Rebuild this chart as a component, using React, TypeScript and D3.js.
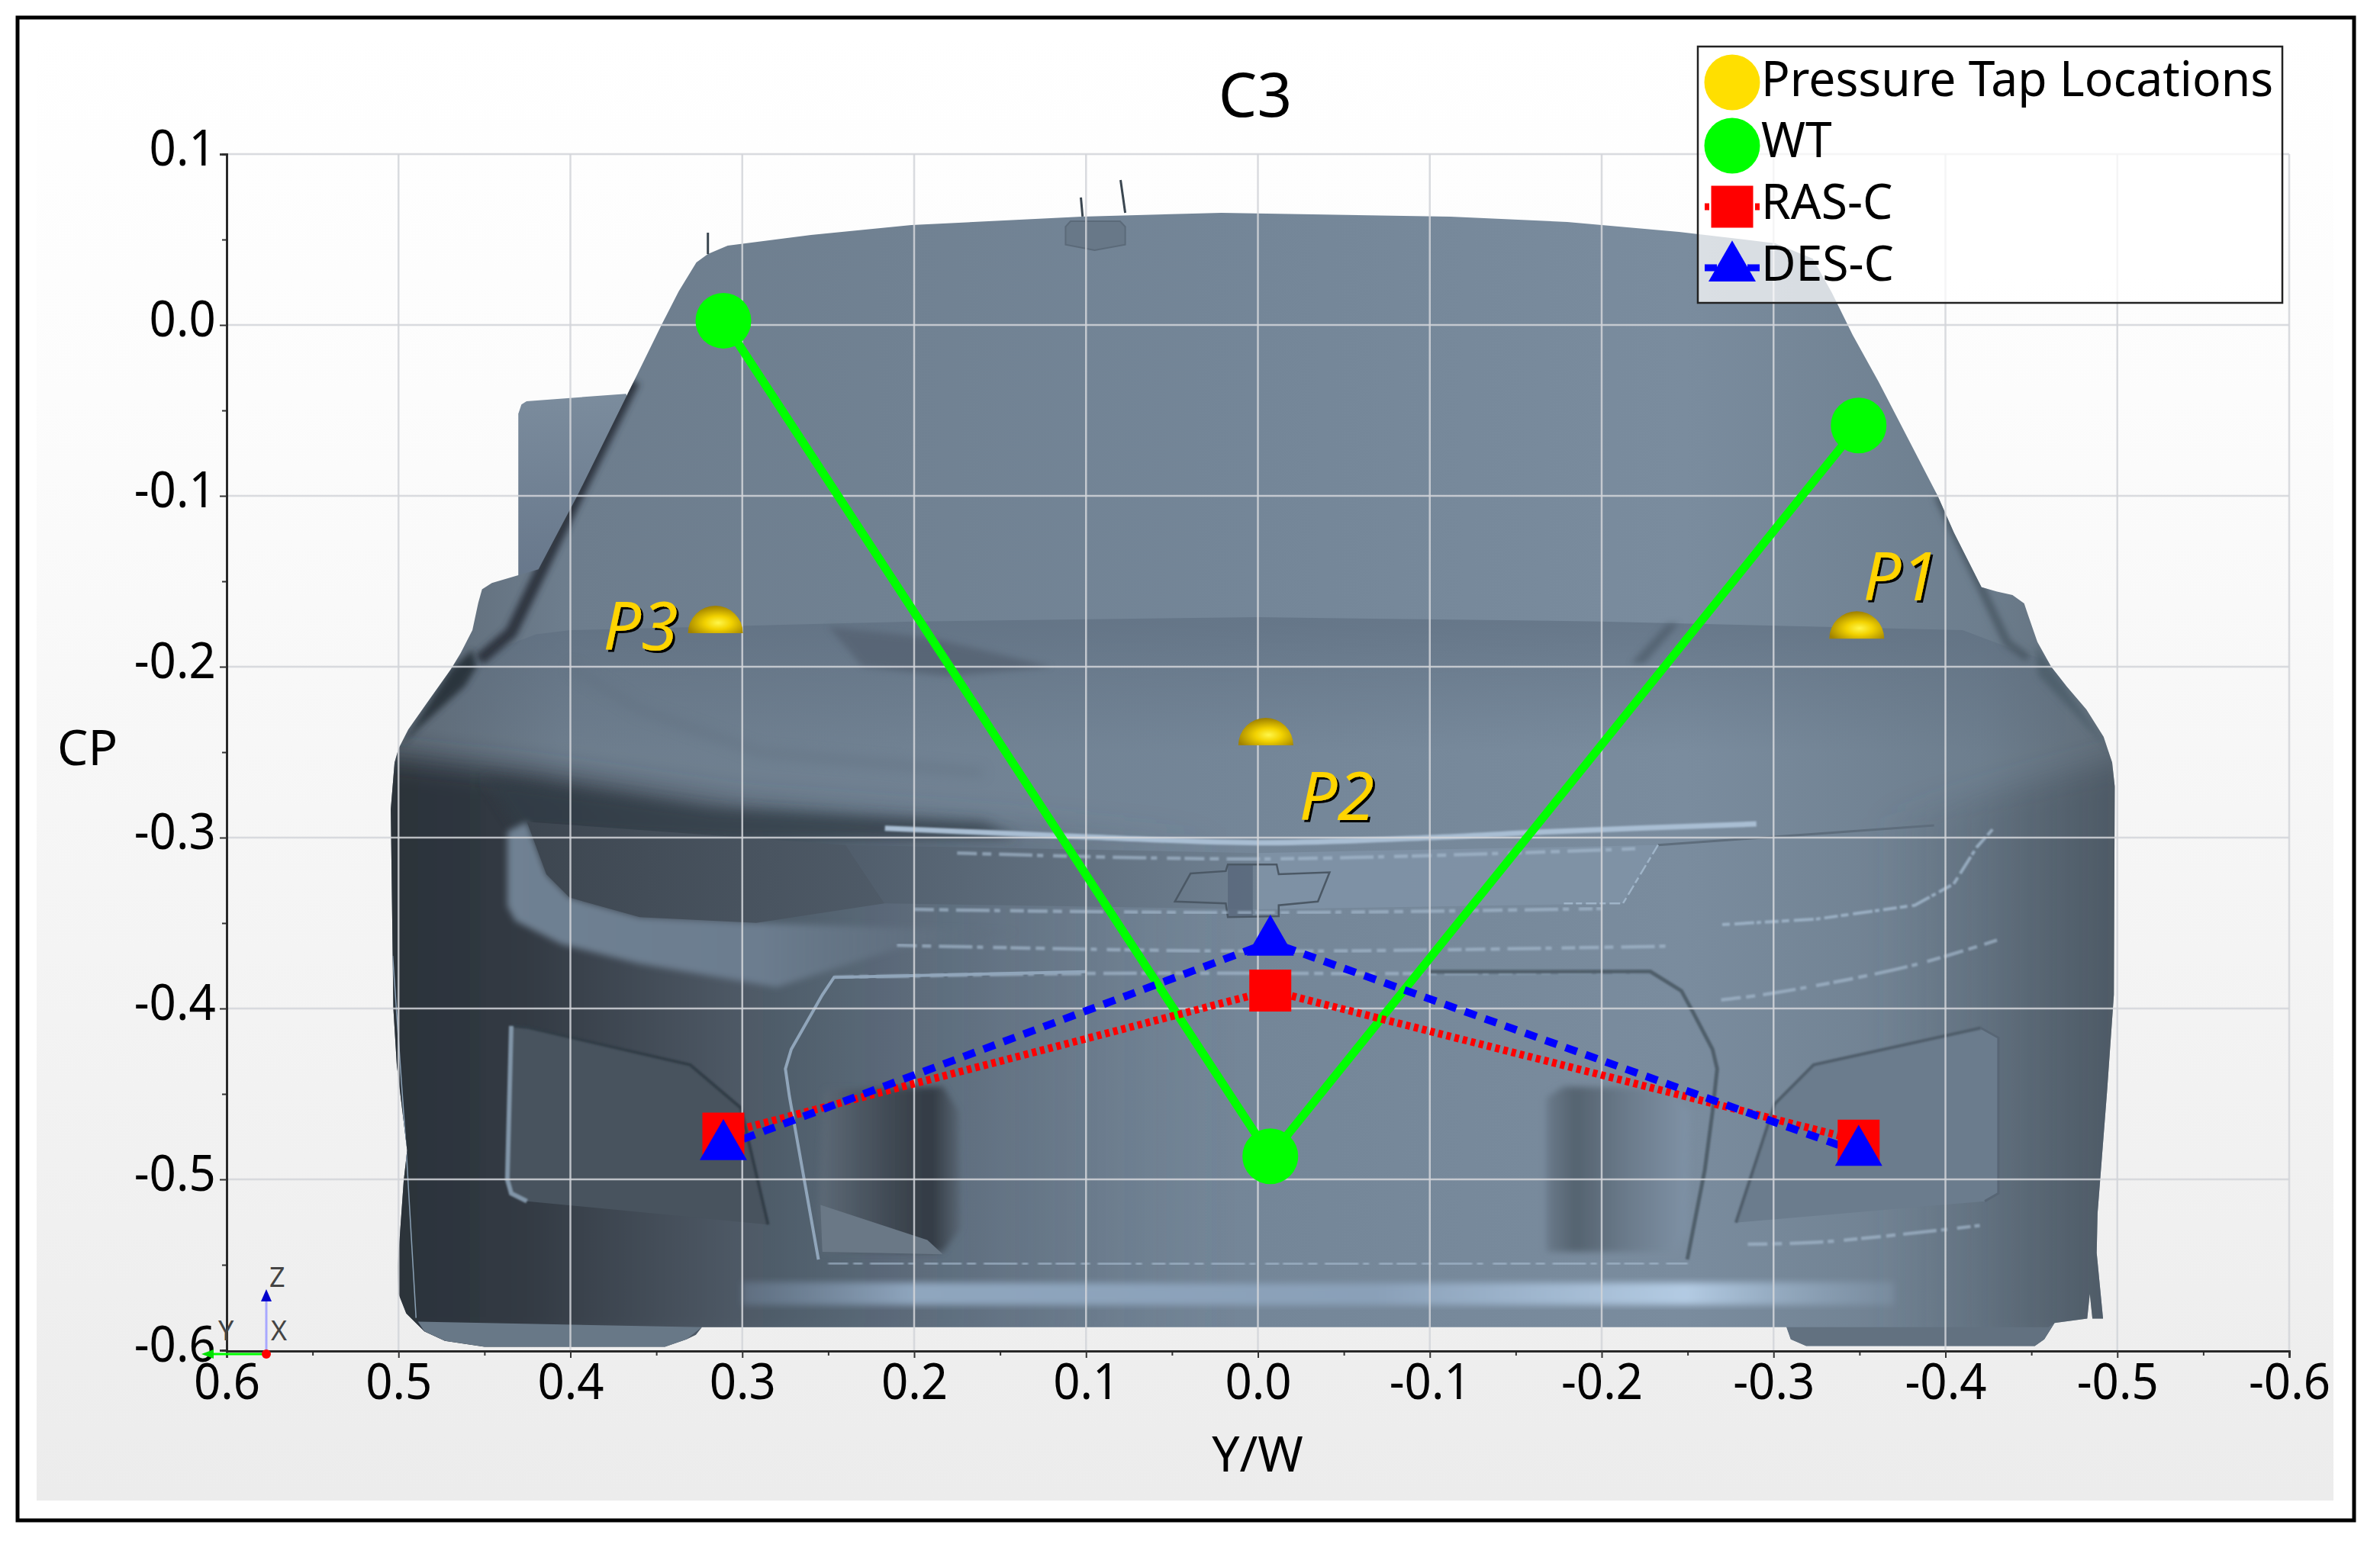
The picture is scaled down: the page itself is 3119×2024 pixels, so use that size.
import { useEffect, useRef } from 'react';
import * as d3 from 'd3';

type Pt = number[];

// chart data
const tapPositions = [0.311, -0.0072, -0.3495];
const wtCp = [0.0025, -0.4865, -0.0588];
const rasCp = [-0.4732, -0.3895, -0.4773];
const desCp = [-0.4807, -0.3611, -0.4841];
const tapDomeY = [0.3156, -0.0046, -0.3484];
const tapDomeCp = [-0.1804, -0.246, -0.1836];
const tapNames = ['P3', 'P2', 'P1'];
const tapNameY = [0.381, -0.024, -0.352];
const tapNameCp = [-0.19, -0.2897, -0.161];
const legendLabels = ['Pressure Tap Locations', 'WT', 'RAS-C', 'DES-C'];
const xTicks = [0.6, 0.5, 0.4, 0.3, 0.2, 0.1, 0, -0.1, -0.2, -0.3, -0.4, -0.5, -0.6];
const xMinorTicks = [0.55, 0.45, 0.35, 0.25, 0.15, 0.05, -0.05, -0.15, -0.25, -0.35, -0.45, -0.55];
const yTicks = [0.1, 0, -0.1, -0.2, -0.3, -0.4, -0.5, -0.6];
const yMinorTicks = [0.05, -0.05, -0.15, -0.25, -0.35, -0.45, -0.55];

// car backdrop outlines, in Y/W and CP units
const bodyOutline: Pt[] = [
  [0.5045, -0.2834], [0.503, -0.4], [0.501, -0.433], [0.495, -0.483], [0.497, -0.501], [0.5005, -0.551],
  [0.5, -0.567], [0.4955, -0.5785], [0.485, -0.589], [0.473, -0.5945], [0.45, -0.598], [0.345, -0.598],
  [0.3325, -0.5936], [0.327, -0.591], [0.3235, -0.5865], [-0.3075, -0.5865], [-0.31, -0.5936], [-0.319, -0.5975],
  [-0.452, -0.5975], [-0.4575, -0.5936], [-0.4635, -0.584], [-0.4825, -0.5815], [-0.484, -0.567], [-0.4855, -0.5815],
  [-0.4917, -0.5815], [-0.488, -0.543], [-0.4885, -0.52], [-0.494, -0.449], [-0.498, -0.392], [-0.4985, -0.27],
  [-0.497, -0.256], [-0.492, -0.241], [-0.482, -0.225], [-0.4705, -0.2115], [-0.4615, -0.2], [-0.4535, -0.1855],
  [-0.448, -0.1695], [-0.4458, -0.163], [-0.439, -0.158], [-0.43, -0.156], [-0.421, -0.1535], [-0.405, -0.1216],
  [-0.3955, -0.1], [-0.361, -0.033], [-0.346, -0.0058], [-0.334, 0.0188], [-0.3228, 0.0388], [-0.301, 0.0478],
  [-0.245, 0.0545], [-0.18, 0.0603], [-0.112, 0.0634], [0.0213, 0.0656], [0.1025, 0.0634], [0.2016, 0.0585],
  [0.26, 0.0527], [0.3085, 0.0464],
  [0.32, 0.0415], [0.3267, 0.0366], [0.337, 0.0196], [0.347, 0], [0.363, -0.0328], [0.396, -0.1],
  [0.4186, -0.143], [0.4457, -0.151], [0.4514, -0.1547], [0.4536, -0.1626], [0.457, -0.1786], [0.4638, -0.192],
  [0.4695, -0.2014], [0.484, -0.222], [0.4943, -0.2367], [0.5, -0.248], [0.5023, -0.256],
];
const wingPlate: Pt[] = [
  [0.4303, -0.155], [0.4303, -0.052], [0.4285, -0.0465], [0.4255, -0.0446], [0.3676, -0.0403], [0.33, -0.155],
];
const leftTire: Pt[] = [
  [0.4887, -0.5833], [0.485, -0.589], [0.473, -0.5945], [0.45, -0.598], [0.345, -0.598], [0.3325, -0.5936], [0.3235, -0.5865],
];
const rightTire: Pt[] = [
  [-0.3075, -0.5865], [-0.31, -0.5936], [-0.319, -0.5975], [-0.452, -0.5975], [-0.4575, -0.5936], [-0.4635, -0.584], [-0.46, -0.5865],
];
const lowerLeftShade: Pt[] = [[0.52, -0.25], [0.42, -0.262], [0.3, -0.28], [0.02, -0.3], [0.02, -0.6], [0.52, -0.6]];
const lowerRightShade: Pt[] = [[-0.36, -0.29], [-0.52, -0.25], [-0.52, -0.6], [-0.36, -0.6]];
const hoodTop: Pt[] = [
  [0.47, -0.2], [0.42, -0.181], [0.4, -0.1786], [0.2, -0.1735], [0, -0.171], [-0.2, -0.1735], [-0.41, -0.1786],
  [-0.44, -0.19], [-0.47, -0.2], [-0.47, -0.25], [0.47, -0.25],
];
const hoodLeftShadow: Pt[] = [[0.45, -0.265], [0.32, -0.283], [0.16, -0.291], [0.14, -0.3], [0.3, -0.302], [0.43, -0.296]];
const fenderStreak: Pt[] = [
  [0.4988, -0.247], [0.4695, -0.2014], [0.457, -0.19], [0.4545, -0.2], [0.4614, -0.2114], [0.489, -0.2365],
];
const fenderStreakRight: Pt[] = [[-0.454, -0.205], [-0.4955, -0.249], [-0.4615, -0.2], [-0.4525, -0.187]];
const leftPillar: Pt[] = [[0.363, -0.0328], [0.396, -0.1], [0.4345, -0.18], [0.453, -0.196]];
const rightPillar: Pt[] = [[-0.3955, -0.1], [-0.436, -0.186], [-0.448, -0.195]];
const cowlLeft: Pt[] = [[0.25, -0.1765], [0.23, -0.2], [0.18, -0.2055], [0.12, -0.2], [0.19, -0.183]];
const cowlRight: Pt[] = [[-0.245, -0.1745], [-0.225, -0.198], [-0.217, -0.198], [-0.238, -0.175]];
const hoodCrease: Pt[] = [[0.4, -0.2], [0.36, -0.225], [0.29, -0.25], [0.16, -0.262]];
const leftLampBand: Pt[] = [
  [0.4367, -0.2964], [0.4367, -0.34], [0.4321, -0.3487], [0.405, -0.3624], [0.3597, -0.3738], [0.28, -0.3875],
  [0.21, -0.365], [0.14, -0.355], [0.2919, -0.3499], [0.3597, -0.3465], [0.4005, -0.3351], [0.414, -0.3214], [0.4253, -0.2907],
];
const leftLamp: Pt[] = [
  [0.4253, -0.2907], [0.2398, -0.3043], [0.2172, -0.3385], [0.2919, -0.3499], [0.3597, -0.3465], [0.4005, -0.3351], [0.414, -0.3214],
];
const centerGrilleLeft: Pt[] = [[0.2398, -0.3043], [0, -0.309], [0, -0.342], [0.2172, -0.3385]];
const centerGrilleRight: Pt[] = [[0, -0.309], [-0.2328, -0.3043], [-0.2124, -0.3385], [0, -0.342]];
const bowtie: Pt[] = [
  [0.0392, -0.321], [0.0187, -0.3196], [0.0175, -0.3157], [-0.0109, -0.3157], [-0.0121, -0.3214], [-0.0417, -0.3203],
  [-0.0349, -0.3374], [-0.0121, -0.3396], [-0.0121, -0.346], [0.0175, -0.3465], [0.0187, -0.3385], [0.0483, -0.3374],
];
const bowtieCore: Pt[] = [[0.0175, -0.3157], [0.003, -0.3157], [0.003, -0.3465], [0.0175, -0.3465]];
const rightLampEdge: Pt[] = [
  [-0.4274, -0.2952], [-0.4183, -0.3055], [-0.4048, -0.3271], [-0.3821, -0.3396], [-0.3256, -0.3476], [-0.269, -0.351],
];
const rightLampTop: Pt[] = [[-0.2328, -0.3043], [-0.3934, -0.2929]];
const rightLampDiagonal: Pt[] = [[-0.2328, -0.3043], [-0.2124, -0.3385], [-0.178, -0.3385]];
const topCrease: Pt[] = [[0.217, -0.2945], [0.1, -0.2995], [0, -0.303], [-0.1, -0.3], [-0.17, -0.2965], [-0.29, -0.292]];
const noiseLines: Pt[][] = [
  [[0.175, -0.309], [0, -0.3125], [-0.22, -0.3065]],
  [[0.2, -0.342], [0, -0.344], [-0.2, -0.3415]],
  [[0.21, -0.363], [0, -0.3665], [-0.24, -0.3635]],
  [[0.2466, -0.3818], [0.1, -0.3795], [-0.1, -0.3795], [-0.2283, -0.3784]],
  [[-0.2695, -0.395], [-0.3, -0.391], [-0.38, -0.375], [-0.43, -0.36]],
  [[0.25, -0.549], [0, -0.5495], [-0.25, -0.549]],
  [[-0.285, -0.538], [-0.33, -0.5365], [-0.42, -0.527]],
];
const frameLeft: Pt[] = [
  [0.1, -0.3785], [0.2466, -0.3818], [0.2534, -0.392], [0.2715, -0.4239], [0.2749, -0.4353], [0.2726, -0.4513], [0.2557, -0.5469],
];
const frameRight: Pt[] = [
  [-0.1, -0.3785], [-0.2283, -0.3784], [-0.2464, -0.3897], [-0.2532, -0.4023], [-0.2645, -0.4239], [-0.2672, -0.4353],
  [-0.2645, -0.4604], [-0.26, -0.4945], [-0.2498, -0.5469],
];
const leftScoop: Pt[] = [
  [0.4344, -0.4102], [0.4253, -0.411], [0.3303, -0.433], [0.3009, -0.4581], [0.285, -0.5264], [0.4253, -0.5128],
  [0.4344, -0.5082], [0.4367, -0.5],
];
const rightScoop: Pt[] = [
  [-0.4206, -0.4114], [-0.3233, -0.433], [-0.3007, -0.4558], [-0.2781, -0.5253], [-0.4229, -0.5128], [-0.4308, -0.5082], [-0.4308, -0.4171],
];
const leftOpening: Pt[] = [
  [0.2523, -0.4478], [0.1833, -0.4456], [0.1742, -0.4604], [0.1731, -0.5287], [0.1833, -0.5424], [0.2534, -0.5424], [0.2557, -0.52],
];
const leftOpeningRamp: Pt[] = [[0.2545, -0.515], [0.1923, -0.5355], [0.1833, -0.5439], [0.2534, -0.5424]];
const rightOpening: Pt[] = [
  [-0.168, -0.452], [-0.178, -0.4456], [-0.24, -0.447], [-0.2509, -0.4604], [-0.2498, -0.53], [-0.243, -0.5424], [-0.168, -0.5424],
];
const splitterBand: Pt[] = [[0.3, -0.56], [0, -0.561], [-0.37, -0.56], [-0.37, -0.5735], [0, -0.5735], [0.3, -0.5735]];
const bodyEdgeLight: Pt[] = [[0.5034, -0.3692], [0.4955, -0.4831], [0.4898, -0.5811]];
const mirrorStub: Pt[] = [
  [0.1119, 0.047], [0.1119, 0.0575], [0.109, 0.0607], [0.0802, 0.0607], [0.0772, 0.0575], [0.0772, 0.047], [0.095, 0.0438],
];
const stubWhiskers: Pt[][] = [
  [[0.103, 0.0746], [0.102, 0.0634]],
  [[0.0799, 0.0848], [0.0772, 0.0656]],
  [[0.32, 0.054], [0.32, 0.0415]],
];

const FONT = '"Noto Sans", sans-serif';
const width = 3119;
const height = 2024;

const x = d3.scaleLinear().domain([0.6, -0.6]).range([297, 3000]);
const y = d3.scaleLinear().domain([0.1, -0.6]).range([202, 1770]);

const straight = d3.line<Pt>().x((d) => x(d[0])).y((d) => y(d[1]));
const smooth = d3.line<Pt>().x((d) => x(d[0])).y((d) => y(d[1])).curve(d3.curveCatmullRom);
const closed = (pts: Pt[]) => `${straight(pts)}Z`;
const seriesLine = d3.line<number>().x((_, i) => x(tapPositions[i])).y((d) => y(d));

const circleMark = d3.symbol(d3.symbolCircle, 4185)()!;
const squareMark = d3.symbol(d3.symbolSquare, 3025)()!;
const triangleMark = d3.symbol(d3.symbolTriangle, 1664)()!;
const domeMark = d3.arc()({ innerRadius: 0, outerRadius: 36, startAngle: -Math.PI / 2, endAngle: Math.PI / 2 })!;

const legendRows = [108, 191, 271, 351];
const legendBaselines = [126, 206, 287, 368];

function Car() {
  return (
    <g>
      <path d={closed(wingPlate)} fill="url(#wingFill)" />
      <clipPath id="bodyClip">
        <path d={closed(bodyOutline)} />
      </clipPath>
      <path d={closed(bodyOutline)} fill="url(#bodyBase)" />
      <g clipPath="url(#bodyClip)">
        <path d={closed(lowerLeftShade)} fill="url(#darkLeft)" filter="url(#blur12)" />
        <path d={closed(lowerRightShade)} fill="url(#darkRight)" filter="url(#blur12)" />
        <path d={closed(hoodTop)} fill="url(#hoodFade)" />
        <path d={closed(hoodLeftShadow)} fill="#333c46" opacity={0.75} filter="url(#blur6)" />
        <path d={closed(cowlLeft)} fill="#566473" opacity={0.85} filter="url(#blur3)" />
        <path d={closed(cowlRight)} fill="#4c5a68" opacity={0.7} filter="url(#blur3)" />
        <path d={straight(hoodCrease)!} fill="none" stroke="#5f6e7e" strokeWidth={10} opacity={0.5} filter="url(#blur6)" />
        <path d={straight(leftPillar)!} fill="none" stroke="#2d3640" strokeWidth={16} filter="url(#blur3)" />
        <path d={straight(rightPillar)!} fill="none" stroke="#4c5a66" strokeWidth={10} filter="url(#blur3)" />
        <path d={closed(fenderStreak)} fill="#2c353e" filter="url(#blur3)" />
        <path d={closed(fenderStreakRight)} fill="#50606d" filter="url(#blur3)" />

        <path d={closed(leftLampBand)} fill="url(#lampBand)" filter="url(#blur3)" />
        <path d={closed(centerGrilleLeft)} fill="url(#grilleLeft)" />
        <path d={closed(centerGrilleRight)} fill="#8193a7" opacity={0.8} />
        <path d={closed(leftLamp)} fill="url(#lampFill)" />
        <path d={closed(bowtieCore)} fill="#57657a" opacity={0.75} />
        <path d={closed(bowtie)} fill="none" stroke="#4b5865" strokeWidth={2.5} />
        <path d={straight(rightLampEdge)!} fill="none" stroke="#a4bacf" strokeWidth={4} strokeDasharray="10 4 18 5 6 3 26 6" opacity={0.8} filter="url(#blur1)" />
        <path d={straight(rightLampTop)!} fill="none" stroke="#5e6d7c" strokeWidth={3} />
        <path d={straight(rightLampDiagonal)!} fill="none" stroke="#9fb4c8" strokeWidth={2.5} strokeDasharray="14 5 8 4" />
        <path d={smooth(topCrease)!} fill="none" stroke="#a9bed3" strokeWidth={7} filter="url(#blur1)" />
        {noiseLines.map((pts, i) => (
          <path key={i} d={smooth(pts)!} fill="none" stroke="#a7bcd0" strokeWidth={4.5} strokeDasharray="26 7 12 10 44 6 8 13 18 5" opacity={0.65} filter="url(#blur1)" />
        ))}

        <path d={closed(leftScoop)} fill="#48535e" />
        <path d={closed(rightScoop)} fill="#6b7c8d" />
        <path d={straight(leftScoop.slice(0, 5))!} fill="none" stroke="#333c46" strokeWidth={4} filter="url(#blur1)" />
        <path d={straight([leftScoop[0], leftScoop[7], leftScoop[6], leftScoop[5]])!} fill="none" stroke="#8195a8" strokeWidth={6} filter="url(#blur1)" />
        <path d={straight(rightScoop.slice(0, 4))!} fill="none" stroke="#4f5d6a" strokeWidth={4} filter="url(#blur1)" />
        <path d={straight([rightScoop[0], rightScoop[6], rightScoop[5], rightScoop[4]])!} fill="none" stroke="#586675" strokeWidth={3} />
        <path d={closed(leftOpening)} fill="url(#openingLeft)" filter="url(#blur3)" />
        <path d={closed(leftOpeningRamp)} fill="#6a7886" />
        <path d={closed(rightOpening)} fill="url(#openingRight)" filter="url(#blur3)" />
        <path d={straight(frameLeft)!} fill="none" stroke="#90a5ba" strokeWidth={4} />
        <path d={straight(frameRight)!} fill="none" stroke="#505e6b" strokeWidth={5} filter="url(#blur1)" />

        <path d={closed(splitterBand)} fill="url(#bandFill)" filter="url(#blur3)" />
        <path d={closed(leftTire)} fill="#687887" />
        <path d={closed(rightTire)} fill="#627180" />
        <path d={straight(bodyEdgeLight)!} fill="none" stroke="#8aa0b5" strokeWidth={1.5} />
      </g>
      <path d={closed(mirrorStub)} fill="#687888" stroke="#5b6a79" strokeWidth={2} />
      {stubWhiskers.map((pts, i) => (
        <path key={i} d={straight(pts)!} fill="none" stroke="#3a4650" strokeWidth={3} />
      ))}
    </g>
  );
}

export default function App() {
  const xAxisRef = useRef<SVGGElement>(null);
  const yAxisRef = useRef<SVGGElement>(null);
  const xMinorRef = useRef<SVGGElement>(null);
  const yMinorRef = useRef<SVGGElement>(null);

  useEffect(() => {
    const label = (d: d3.NumberValue) => (+d).toFixed(1);
    const xAxis = d3.select(xAxisRef.current!);
    xAxis.call(d3.axisBottom(x).tickValues(xTicks).tickSize(9).tickPadding(8).tickFormat(label));
    const yAxis = d3.select(yAxisRef.current!);
    yAxis.call(d3.axisLeft(y).tickValues(yTicks).tickSize(9).tickPadding(6).tickFormat(label));
    d3.select(xMinorRef.current!).call(d3.axisBottom(x).tickValues(xMinorTicks).tickSize(6).tickFormat(() => ''));
    d3.select(yMinorRef.current!).call(d3.axisLeft(y).tickValues(yMinorTicks).tickSize(6).tickFormat(() => ''));

    const svg = d3.select(xAxisRef.current!.ownerSVGElement!);
    svg.selectAll('.axis .domain').attr('stroke', '#222').attr('stroke-width', 2.5);
    svg.selectAll('.axis .tick line').attr('stroke', '#333').attr('stroke-width', 2);
    svg.selectAll('.axis text').attr('fill', '#000').attr('font-size', 65).attr('font-family', FONT).attr('transform', 'scale(0.95,1)');
    yAxis.selectAll('text').attr('dy', '0.22em');
  }, []);

  return (
    <svg width={width} height={height} style={{ position: 'absolute', left: 0, top: 0, display: 'block' }} fontFamily={FONT}>
      <defs>
        <linearGradient id="panelFill" x1="0" x2="0" y1="0" y2="1">
          <stop offset="0" stopColor="#ffffff" />
          <stop offset="0.25" stopColor="#fcfcfc" />
          <stop offset="1" stopColor="#ececec" />
        </linearGradient>
        <linearGradient id="wingFill" x1="0" x2="0" y1="0" y2="1">
          <stop offset="0" stopColor="#7b8c9d" />
          <stop offset="1" stopColor="#66768a" />
        </linearGradient>
        <linearGradient id="bodyBase" gradientUnits="userSpaceOnUse" x1={x(0.505)} x2={x(-0.5)} y1={0} y2={0}>
          <stop offset="0" stopColor="#5c6874" />
          <stop offset="0.1" stopColor="#6d7d8d" />
          <stop offset="0.5" stopColor="#748698" />
          <stop offset="0.75" stopColor="#7a8c9e" />
          <stop offset="0.92" stopColor="#6d7e8e" />
          <stop offset="1" stopColor="#5f6c78" />
        </linearGradient>
        <linearGradient id="darkLeft" gradientUnits="userSpaceOnUse" x1={x(0.5)} x2={x(0.02)} y1={0} y2={0}>
          <stop offset="0" stopColor="#2a3139" stopOpacity={0.98} />
          <stop offset="0.15" stopColor="#2f373f" stopOpacity={0.95} />
          <stop offset="0.4" stopColor="#38424c" stopOpacity={0.65} />
          <stop offset="0.7" stopColor="#445160" stopOpacity={0.35} />
          <stop offset="1" stopColor="#4f5d6c" stopOpacity={0} />
        </linearGradient>
        <linearGradient id="darkRight" gradientUnits="userSpaceOnUse" x1={x(-0.36)} x2={x(-0.5)} y1={0} y2={0}>
          <stop offset="0" stopColor="#4b5864" stopOpacity={0} />
          <stop offset="1" stopColor="#46525e" stopOpacity={0.7} />
        </linearGradient>
        <linearGradient id="hoodFade" gradientUnits="userSpaceOnUse" x1={0} x2={0} y1={y(-0.175)} y2={y(-0.25)}>
          <stop offset="0" stopColor="#5c6c7e" stopOpacity={0.6} />
          <stop offset="1" stopColor="#5c6c7e" stopOpacity={0} />
        </linearGradient>
        <linearGradient id="lampBand" gradientUnits="userSpaceOnUse" x1={x(0.44)} x2={x(0.14)} y1={0} y2={0}>
          <stop offset="0" stopColor="#6f8193" />
          <stop offset="0.5" stopColor="#6c7d8f" />
          <stop offset="1" stopColor="#5e6d7c" stopOpacity={0.4} />
        </linearGradient>
        <linearGradient id="lampFill" x1="0" x2="1" y1="0" y2="0">
          <stop offset="0" stopColor="#3d4650" />
          <stop offset="1" stopColor="#4f5b68" />
        </linearGradient>
        <linearGradient id="grilleLeft" x1="0" x2="1" y1="0" y2="0">
          <stop offset="0" stopColor="#505d6b" />
          <stop offset="1" stopColor="#6f8091" />
        </linearGradient>
        <linearGradient id="openingLeft" x1="0" x2="1" y1="0" y2="0">
          <stop offset="0" stopColor="#5d6a77" />
          <stop offset="0.55" stopColor="#3e4751" />
          <stop offset="0.8" stopColor="#333b44" />
          <stop offset="1" stopColor="#5a6775" />
        </linearGradient>
        <linearGradient id="openingRight" x1="0" x2="1" y1="0" y2="0">
          <stop offset="0" stopColor="#6a7a8a" />
          <stop offset="0.2" stopColor="#556370" />
          <stop offset="0.55" stopColor="#6a7a8a" />
          <stop offset="1" stopColor="#7f92a6" />
        </linearGradient>
        <linearGradient id="bandFill" gradientUnits="userSpaceOnUse" x1={x(0.3)} x2={x(-0.37)} y1={0} y2={0}>
          <stop offset="0" stopColor="#70839a" stopOpacity={0.5} />
          <stop offset="0.15" stopColor="#8fa6be" />
          <stop offset="0.55" stopColor="#8aa0b8" />
          <stop offset="0.82" stopColor="#b3cbe3" />
          <stop offset="1" stopColor="#8ca3ba" stopOpacity={0.3} />
        </linearGradient>
        <radialGradient id="domeFill" cx="0.55" cy="0.62" r="0.6">
          <stop offset="0" stopColor="#fff64a" />
          <stop offset="0.4" stopColor="#f2d200" />
          <stop offset="1" stopColor="#a08200" />
        </radialGradient>
        <filter id="blur1" x="-20%" y="-20%" width="140%" height="140%"><feGaussianBlur stdDeviation="1.2" /></filter>
        <filter id="blur3" x="-20%" y="-20%" width="140%" height="140%"><feGaussianBlur stdDeviation="4" /></filter>
        <filter id="blur6" x="-30%" y="-60%" width="160%" height="220%"><feGaussianBlur stdDeviation="8" /></filter>
        <filter id="blur12" x="-20%" y="-20%" width="140%" height="140%"><feGaussianBlur stdDeviation="18" /></filter>
        <filter id="labelShadow" x="-10%" y="-10%" width="130%" height="130%">
          <feDropShadow dx={3} dy={3} stdDeviation={0.6} floodColor="#000" />
        </filter>
      </defs>

      <rect width={width} height={height} fill="#fff" />
      <rect x={48} y={40} width={3010} height={1927} fill="url(#panelFill)" />
      <rect x={23} y={23} width={3062} height={1970} fill="none" stroke="#000" strokeWidth={5} />

      <Car />

      {xTicks.slice(1).map((t) => (
        <line key={t} x1={x(t)} x2={x(t)} y1={y(0.1)} y2={y(-0.6)} stroke="#d2d5d9" strokeOpacity={0.85} strokeWidth={2.5} />
      ))}
      {yTicks.slice(0, -1).map((t) => (
        <line key={t} x1={x(0.6)} x2={x(-0.6)} y1={y(t)} y2={y(t)} stroke="#d2d5d9" strokeOpacity={0.85} strokeWidth={2.5} />
      ))}

      <g className="axis" ref={xMinorRef} transform={`translate(0,${y(-0.6) + 1})`} />
      <g className="axis" ref={yMinorRef} transform={`translate(${x(0.6)},0)`} />
      <g className="axis" ref={xAxisRef} transform={`translate(0,${y(-0.6) + 1})`} />
      <g className="axis" ref={yAxisRef} transform={`translate(${x(0.6)},0)`} />

      {tapDomeY.map((d, i) => (
        <path key={d} d={domeMark} fill="url(#domeFill)" transform={`translate(${x(d)},${y(tapDomeCp[i])})`} />
      ))}
      {tapNames.map((name, i) => (
        <text
          key={name}
          x={x(tapNameY[i])}
          y={y(tapNameCp[i])}
          fontSize={88}
          fontStyle="italic"
          fill="#ffd400"
          filter="url(#labelShadow)"
        >
          {name}
        </text>
      ))}

      <path d={seriesLine(wtCp)!} fill="none" stroke="#00ff00" strokeWidth={11} />
      <path d={seriesLine(rasCp)!} fill="none" stroke="#ff0000" strokeWidth={10} strokeDasharray="6 5" />
      <path d={seriesLine(desCp)!} fill="none" stroke="#0000ff" strokeWidth={10} strokeDasharray="16 12" />
      {wtCp.map((d, i) => (
        <path key={i} d={circleMark} fill="#00ff00" transform={`translate(${x(tapPositions[i])},${y(d)})`} />
      ))}
      {rasCp.map((d, i) => (
        <path key={i} d={squareMark} fill="#ff0000" transform={`translate(${x(tapPositions[i])},${y(d)})`} />
      ))}
      {desCp.map((d, i) => (
        <path key={i} d={triangleMark} fill="#0000ff" transform={`translate(${x(tapPositions[i])},${y(d)})`} />
      ))}

      <text x={1645} y={153} textAnchor="middle" fontSize={80} fill="#000">C3</text>
      <text x={1648} y={1929} textAnchor="middle" fontSize={64} fill="#000">Y/W</text>
      <text x={75} y={1003} fontSize={64} fill="#000">CP</text>

      {/* orientation triad */}
      <line x1={349} x2={349} y1={1776} y2={1700} stroke="#a8a8ff" strokeWidth={3} />
      <path d="M349,1690 L342,1706 L356,1706 Z" fill="#0000cc" />
      <line x1={349} x2={272} y1={1775} y2={1775} stroke="#00ff00" strokeWidth={3} />
      <path d="M264,1775 L280,1769 L280,1781 Z" fill="#00e000" />
      <ellipse cx={349} cy={1775} rx={6} ry={6} fill="#ff0000" />
      <g fontSize={36} fill="#444">
        <text x={353} y={1687}>Z</text>
        <text x={286} y={1757}>Y</text>
        <text x={355} y={1757}>X</text>
      </g>

      {/* legend */}
      <rect x={2225} y={61} width={766} height={336} fill="#fff" fillOpacity={0.72} stroke="#222" strokeWidth={2.5} />
      <path d={circleMark} fill="#ffdf00" transform={`translate(2270,${legendRows[0]})`} />
      <path d={circleMark} fill="#00ff00" transform={`translate(2270,${legendRows[1]})`} />
      <line x1={2234} x2={2307} y1={legendRows[2]} y2={legendRows[2]} stroke="#ff0000" strokeWidth={9} strokeDasharray="6 5" />
      <path d={squareMark} fill="#ff0000" transform={`translate(2270,${legendRows[2]})`} />
      <line x1={2234} x2={2307} y1={legendRows[3]} y2={legendRows[3]} stroke="#0000ff" strokeWidth={9} strokeDasharray="16 12" />
      <path d={triangleMark} fill="#0000ff" transform={`translate(2270,${legendRows[3]})`} />
      {legendLabels.map((label, i) => (
        <text key={label} transform={`translate(2308,${legendBaselines[i]}) scale(0.975,1)`} fontSize={64} fill="#000">
          {label}
        </text>
      ))}
    </svg>
  );
}
